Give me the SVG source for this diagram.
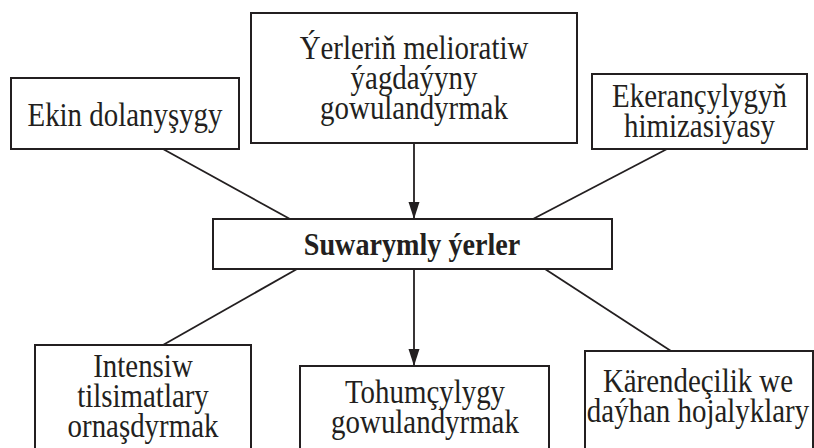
<svg xmlns="http://www.w3.org/2000/svg" width="814" height="448" viewBox="0 0 814 448">
<style>
.box{fill:#ffffff;stroke:#231f20;stroke-width:2}
.t{font-family:"Liberation Serif","Times New Roman",serif;font-size:34px;fill:#231f20;text-anchor:middle}
.b{font-family:"Liberation Serif","Times New Roman",serif;font-size:32px;font-weight:bold;fill:#231f20;text-anchor:middle}
.ln{stroke:#231f20;stroke-width:1.8;fill:none}
</style>
<defs>
<marker id="arr" markerUnits="userSpaceOnUse" markerWidth="17" markerHeight="12" refX="17" refY="6" orient="auto">
<path d="M0,0.5 L17,6 L0,11.5 z" fill="#231f20"/>
</marker>
</defs>
<rect width="814" height="448" fill="#ffffff"/>
<g id="connectors">
<line class="ln" x1="163" y1="149" x2="290" y2="219"/>
<line class="ln" x1="414" y1="143" x2="414" y2="219" marker-end="url(#arr)"/>
<line class="ln" x1="667" y1="149" x2="533" y2="219"/>
<line class="ln" x1="297" y1="269" x2="163" y2="345"/>
<line class="ln" x1="414" y1="269" x2="414" y2="366" marker-end="url(#arr)"/>
<line class="ln" x1="545" y1="269" x2="671" y2="351"/>
</g>
<g id="n-ekin">
<rect class="box" x="11" y="78" width="228" height="71"/>
<text class="t" transform="translate(125,126) scale(0.85,1)">Ekin dolanyşygy</text>
</g>
<g id="n-meliorativ">
<rect class="box" x="251" y="13" width="326" height="130"/>
<text class="t" transform="translate(414,59) scale(0.85,1)"><tspan x="0" y="0">Ýerleriň melioratiw</tspan><tspan x="0" y="30">ýagdaýyny</tspan><tspan x="0" y="60">gowulandyrmak</tspan></text>
</g>
<g id="n-himizasiya">
<rect class="box" x="592" y="74" width="215" height="75"/>
<text class="t" transform="translate(699.5,107) scale(0.85,1)"><tspan x="0" y="0">Ekerançylygyň</tspan><tspan x="0" y="30">himizasiýasy</tspan></text>
</g>
<g id="n-center">
<rect class="box" x="213" y="219" width="399" height="50"/>
<text class="b" transform="translate(412,255) scale(0.88,1)">Suwarymly ýerler</text>
</g>
<g id="n-intensiw">
<rect class="box" x="35" y="345" width="216" height="120"/>
<text class="t" transform="translate(143,377) scale(0.85,1)"><tspan x="0" y="0">Intensiw</tspan><tspan x="0" y="30">tilsimatlary</tspan><tspan x="0" y="60">ornaşdyrmak</tspan></text>
</g>
<g id="n-tohum">
<rect class="box" x="300" y="366" width="249" height="100"/>
<text class="t" transform="translate(425,403) scale(0.85,1)"><tspan x="0" y="0">Tohumçylygy</tspan><tspan x="0" y="30">gowulandyrmak</tspan></text>
</g>
<g id="n-karende">
<rect class="box" x="585" y="351" width="228" height="115"/>
<text class="t" transform="translate(698,392) scale(0.85,1)"><tspan x="0" y="0">Kärendeçilik we</tspan><tspan x="0" y="30">daýhan hojalyklary</tspan></text>
</g>
</svg>
